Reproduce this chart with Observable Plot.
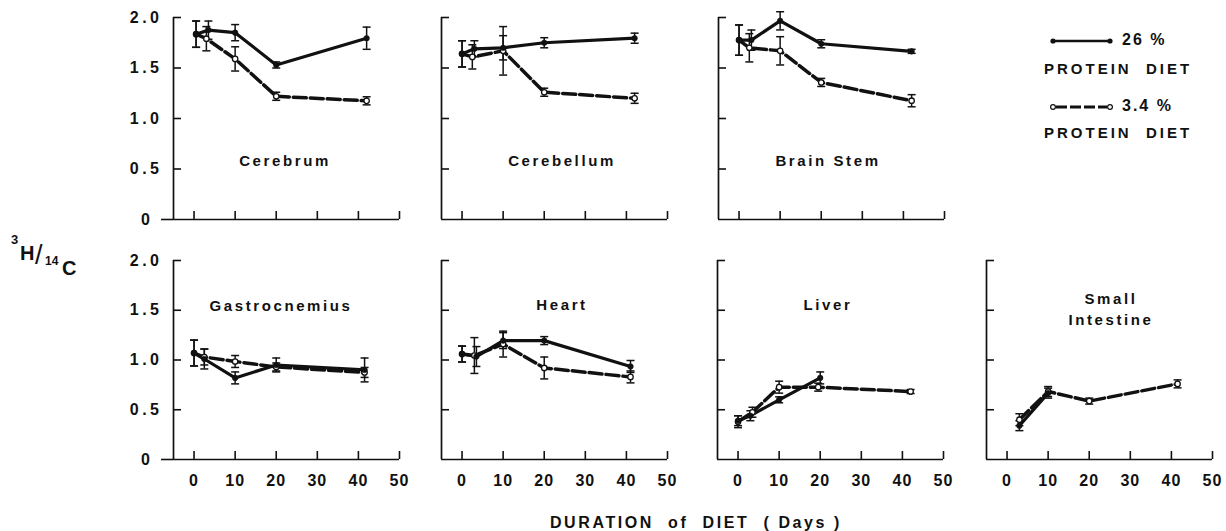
<!DOCTYPE html>
<html><head><meta charset="utf-8">
<script src="https://cdn.jsdelivr.net/npm/d3@7"></script>
<script src="https://cdn.jsdelivr.net/npm/@observablehq/plot@0.6"></script>
<style>
body{margin:0;background:#fff;}
#chart{position:relative;width:1226px;height:531px;overflow:hidden;font-family:"Liberation Sans",Arial,sans-serif;font-weight:bold;color:#111;background:#fff;}
#chart svg.pnl{position:absolute;background:transparent;overflow:visible;}
.lbl{position:absolute;white-space:nowrap;font-size:15px;letter-spacing:2.6px;transform:translate(-50%,-50%);}
.t{position:absolute;white-space:nowrap;}
</style></head><body><div id="chart"></div>
<script>
// ---- axis ticks / labels ----
const xTicks = [0, 10, 20, 30, 40, 50];
const yTicks = [0.5, 1.0, 1.5, 2.0];
const xDomain = [-5, 50];
const yDomain = [0, 2];
const organs = ["Cerebrum", "Cerebellum", "Brain Stem", "Gastrocnemius", "Heart", "Liver", "Small Intestine"];
const dietLabels = ["26 %", "3.4 %"];

// ---- data: [day, 3H/14C ratio, error] ----
const cerebrum26 = [[0.5,1.835,0.13],[3.5,1.875,0.09],[10,1.85,0.08],[20,1.53,0.03],[42,1.795,0.11]];
const cerebrum34 = [[0.5,1.835,0.13],[3,1.79,0.12],[10,1.59,0.12],[20,1.22,0.04],[42,1.175,0.04]];
const cerebellum26 = [[0,1.64,0.13],[3,1.69,0.08],[10,1.70,0.12],[20,1.75,0.05],[42,1.795,0.05]];
const cerebellum34 = [[0,1.64,0.13],[2.5,1.61,0.12],[10,1.67,0.24],[20,1.26,0.04],[42,1.20,0.05]];
const brainstem26 = [[0,1.776,0.15],[3,1.776,0.10],[10,1.967,0.09],[20,1.74,0.04],[42,1.665,0.02]];
const brainstem34 = [[0,1.776,0.15],[2.5,1.70,0.14],[10,1.67,0.14],[20,1.357,0.04],[42,1.176,0.06]];
const gastro26 = [[0,1.07,0.13],[2.5,1.01,0.10],[10,0.82,0.06],[20,0.95,0.07],[41.5,0.90,0.12]];
const gastro34 = [[0,1.07,0.13],[2.5,1.03,0.08],[10,0.985,0.06],[20,0.93,0.04],[41.5,0.875,0.05]];
const heart26 = [[0,1.06,0.08],[3.5,1.035,0.10],[10,1.195,0.08],[20,1.195,0.04],[41,0.935,0.06]];
const heart34 = [[0,1.06,0.08],[3,1.045,0.18],[10,1.16,0.13],[20,0.92,0.11],[41,0.83,0.06]];
const liver26 = [[0,0.39,0.05],[3,0.44,0.05],[10,0.60,0.03],[20,0.82,0.06]];
const liver34 = [[0,0.38,0.06],[3.5,0.475,0.05],[10,0.727,0.06],[19.5,0.727,0.04],[42,0.683,0.02]];
const intestine26 = [[3,0.34,0.05],[10,0.667,0.05]];
const intestine34 = [[3,0.40,0.06],[10,0.683,0.05],[20,0.587,0.03],[41.5,0.76,0.04]];

// ---- layout ----
const layout = [
  {hi: cerebrum26, lo: cerebrum34, left: 173, top: 17, h: 202, col: 0, row: 0, lx: 285, ly: 160},
  {hi: cerebellum26, lo: cerebellum34, left: 441, top: 17, h: 202, col: 1, row: 0, lx: 562, ly: 160},
  {hi: brainstem26, lo: brainstem34, left: 718, top: 17, h: 202, col: 2, row: 0, lx: 828, ly: 160},
  {hi: gastro26, lo: gastro34, left: 173, top: 260, h: 199, col: 0, row: 1, lx: 281, ly: 305},
  {hi: heart26, lo: heart34, left: 441, top: 260, h: 199, col: 1, row: 1, lx: 562, ly: 304},
  {hi: liver26, lo: liver34, left: 717, top: 260, h: 199, col: 2, row: 1, lx: 828, ly: 304},
  {hi: intestine26, lo: intestine34, left: 986, top: 260, h: 199, col: 3, row: 1, lx: 1111, ly: 309}
];

const ink = "#111";
const cap = {draw(ctx, size) { const w = Math.sqrt(size / Math.PI); ctx.moveTo(-w, 0); ctx.lineTo(w, 0); }};
const chart = document.getElementById("chart");
const ML = 60, MR = 12, MT = 10, MB = 36, W = 226;

layout.forEach((p, i) => {
  const toRows = arr => arr.map(([d, v, e]) => ({d, v, e}));
  const hi = toRows(p.hi), lo = toRows(p.lo), all = [...lo, ...hi];
  const first = p.col === 0, bottom = p.row === 1;
  const marks = [
    Plot.ruleX([xDomain[0]], {stroke: ink, strokeWidth: 1.7}),
    Plot.ruleY([yDomain[0]], {stroke: ink, strokeWidth: 1.7}),
    Plot.axisY(yTicks, {tickSize: -8, tickFormat: () => "", strokeWidth: 1.6, label: null}),
    Plot.axisX(xTicks, {tickSize: -8, tickFormat: () => "", strokeWidth: 1.6, label: null}),
    Plot.line(lo, {x: "d", y: "v", stroke: ink, strokeWidth: 3.5, strokeDasharray: "13,4"}),
    Plot.line(hi, {x: "d", y: "v", stroke: ink, strokeWidth: 3.2}),
    Plot.ruleX(all, {x: "d", y1: r => r.v - r.e, y2: r => r.v + r.e, stroke: ink, strokeWidth: 1.5}),
    Plot.dot(all, {x: "d", y: r => r.v - r.e, symbol: cap, r: 4, stroke: ink, fill: "none", strokeWidth: 1.5}),
    Plot.dot(all, {x: "d", y: r => r.v + r.e, symbol: cap, r: 4, stroke: ink, fill: "none", strokeWidth: 1.5}),
    Plot.dot(lo, {x: "d", y: "v", r: 2.7, fill: "white", stroke: ink, strokeWidth: 1.3}),
    Plot.dot(hi, {x: "d", y: "v", r: 2.8, fill: ink, stroke: ink, strokeWidth: 0.5})
  ];
  if (first) {
    marks.push(Plot.axisY(yTicks, {tickSize: 0, tickPadding: 11, tickFormat: d => d.toFixed(1), fontSize: 16, label: null}));
    marks.push(Plot.axisY([0], {tickSize: 12, tickPadding: 8, tickFormat: () => "0", fontSize: 16, strokeWidth: 1.6, label: null}));
  }
  if (bottom) {
    marks.push(Plot.axisX(xTicks, {tickSize: 0, tickPadding: 15, fontSize: 16, label: null}));
  }
  const svg = Plot.plot({
    width: ML + W + MR, height: MT + p.h + MB,
    marginLeft: ML, marginRight: MR, marginTop: MT, marginBottom: MB,
    x: {domain: xDomain, label: null},
    y: {domain: yDomain, label: null},
    style: {background: "transparent", overflow: "visible", fontFamily: '"Liberation Sans", Arial, sans-serif', fontWeight: "bold", color: ink},
    marks
  });
  svg.querySelectorAll('g[aria-label="y-axis tick label"]').forEach(g => g.style.letterSpacing = "3.5px");
  svg.querySelectorAll('g[aria-label="x-axis tick label"]').forEach(g => g.style.letterSpacing = "1px");
  svg.classList.add("pnl");
  svg.style.left = (p.left - ML) + "px";
  svg.style.top = (p.top - MT) + "px";
  chart.appendChild(svg);

  const name = organs[i];
  const lab = document.createElement("div");
  lab.className = "lbl";
  lab.style.left = p.lx + "px"; lab.style.top = p.ly + "px";
  if (name === "Small Intestine") { lab.style.textAlign = "center"; lab.style.lineHeight = "21px"; lab.innerHTML = "Small<br>Intestine"; }
  else lab.textContent = name;
  chart.appendChild(lab);
});

// ---- legend ----
const NS = "http://www.w3.org/2000/svg";
const lg = document.createElementNS(NS, "svg");
lg.setAttribute("width", 80); lg.setAttribute("height", 90);
lg.style.position = "absolute"; lg.style.left = "1045px"; lg.style.top = "30px";
lg.innerHTML = `
 <line x1="8" y1="11" x2="65" y2="11" stroke="${ink}" stroke-width="2.7"/>
 <circle cx="8" cy="11" r="2.6" fill="${ink}"/><circle cx="65" cy="11" r="2.6" fill="${ink}"/>
 <line x1="11" y1="77" x2="62" y2="77" stroke="${ink}" stroke-width="3" stroke-dasharray="11,3"/>
 <circle cx="8" cy="77" r="2.4" fill="white" stroke="${ink}" stroke-width="1.2"/><circle cx="65" cy="77" r="2.4" fill="white" stroke="${ink}" stroke-width="1.2"/>`;
chart.appendChild(lg);
function txt(s, x, y, size, ls, extra) {
  const d = document.createElement("div");
  d.className = "t"; d.textContent = s;
  d.style.left = x + "px"; d.style.top = y + "px";
  d.style.fontSize = size + "px"; d.style.letterSpacing = ls + "px";
  if (extra) Object.assign(d.style, extra);
  chart.appendChild(d); return d;
}
txt(dietLabels[0], 1122, 31, 16, 2);
txt("PROTEIN  DIET", 1044, 60, 15, 3, {whiteSpace: "pre"});
txt(dietLabels[1], 1122, 97, 16, 2);
txt("PROTEIN  DIET", 1044, 124, 15, 3, {whiteSpace: "pre"});

// ---- axis titles ----
txt("3", 11, 232, 13, 0);
txt("H", 20, 242, 20, 0);
txt("/", 35, 240, 27, 0, {fontWeight: "normal"});
txt("14", 45, 254, 12, 0);
txt("C", 62, 257, 20, 0);
txt("DURATION  of  DIET  ( Days )", 696, 523, 16, 2.6, {whiteSpace: "pre", transform: "translate(-50%,-50%)"});
</script></body></html>
